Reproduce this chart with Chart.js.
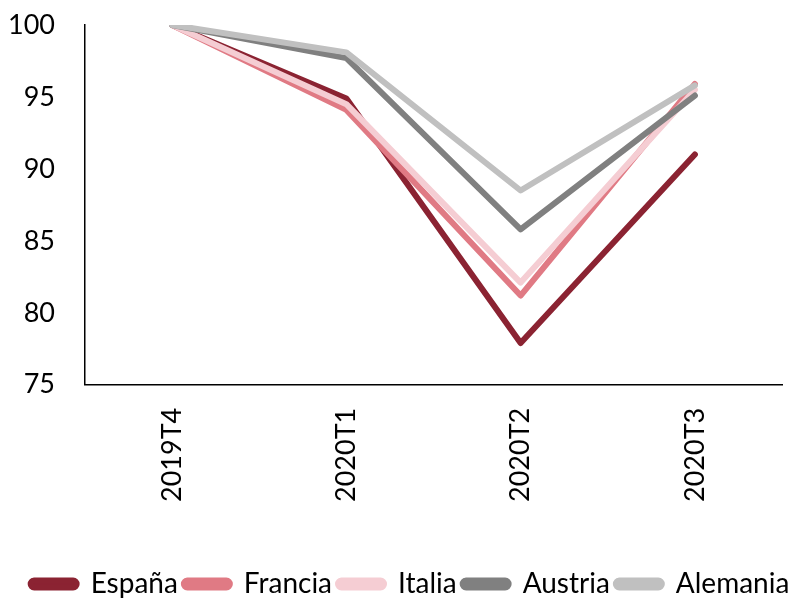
<!DOCTYPE html>
<html>
<head>
<meta charset="utf-8">
<script src="https://cdn.jsdelivr.net/npm/chart.js@4.4.0/dist/chart.umd.min.js"></script>
<style>
  html, body { margin: 0; padding: 0; background: #fff; }
  #wrap { width: 808px; height: 598px; position: relative; }
</style>
</head>
<body>
<div id="wrap"><canvas id="chart"></canvas></div>
<script>
// trimestres
var quarters = ["2019T4", "2020T1", "2020T2", "2020T3"];

// PIB, índice 2019T4 = 100
var espana   = [100, 94.9, 77.9, 91.0];
var francia  = [100, 94.1, 81.2, 95.9];
var italia   = [100, 94.5, 82.1, 95.5];
var austria  = [100, 97.7, 85.8, 95.1];
var alemania = [100, 98.1, 88.5, 95.8];

var yTicks = [75, 80, 85, 90, 95, 100];

function serie(label, data, color, order) {
  return {
    label: label,
    data: data,
    borderColor: color,
    backgroundColor: color,
    borderWidth: 6,
    borderCapStyle: 'round',
    borderJoinStyle: 'round',
    pointRadius: 0,
    tension: 0,
    order: order
  };
}

var font = "Lato, 'DejaVu Sans', sans-serif";

// nudge the legend row to the right, under the plot
var legendShift = {
  id: 'legendShift',
  afterLayout: function(chart) {
    chart.legend.left += 26;
    chart.legend.right += 26;
  }
};

var config = {
  type: 'line',
  data: {
    labels: quarters,
    datasets: [
      serie("España", espana, '#8B2332', 5),
      serie("Francia", francia, '#E07A84', 4),
      serie("Italia", italia, '#F5CDD3', 3),
      serie("Austria", austria, '#808080', 2),
      serie("Alemania", alemania, '#C0C0C0', 1)
    ]
  },
  plugins: [legendShift],
  options: {
    responsive: true,
    maintainAspectRatio: false,
    animation: false,
    layout: { padding: { top: 25, right: 26, left: -14, bottom: -10 } },
    plugins: {
      tooltip: { enabled: false },
      legend: {
        position: 'bottom',
        labels: {
          color: '#000',
          font: { family: font, size: 28 },
          boxWidth: 46,
          boxHeight: 7,
          useBorderRadius: true,
          borderRadius: 3.5,
          padding: 6,
          sort: function(a, b) { return a.datasetIndex - b.datasetIndex; }
        }
      }
    },
    scales: {
      x: {
        offset: true,
        grid: { display: false },
        border: { display: true, color: '#000', width: 1.5 },
        ticks: {
          color: '#000',
          font: { family: font, size: 27 },
          minRotation: 90,
          maxRotation: 90,
          padding: 15
        },
        // room between the quarter labels and the legend
        afterFit: function(axis) { axis.height += 47; }
      },
      y: {
        min: 75,
        max: 100,
        afterBuildTicks: function(axis) {
          axis.ticks = yTicks.map(function(v) { return { value: v }; });
        },
        afterFit: function(axis) { axis.paddingTop = 0; },
        grid: { display: false },
        border: { display: true, color: '#000', width: 1.5 },
        ticks: {
          color: '#000',
          font: { family: font, size: 27 },
          padding: 22
        }
      }
    }
  }
};

var ctx = document.getElementById("chart").getContext("2d");
var myChart = new Chart(ctx, config);
</script>
</body>
</html>
